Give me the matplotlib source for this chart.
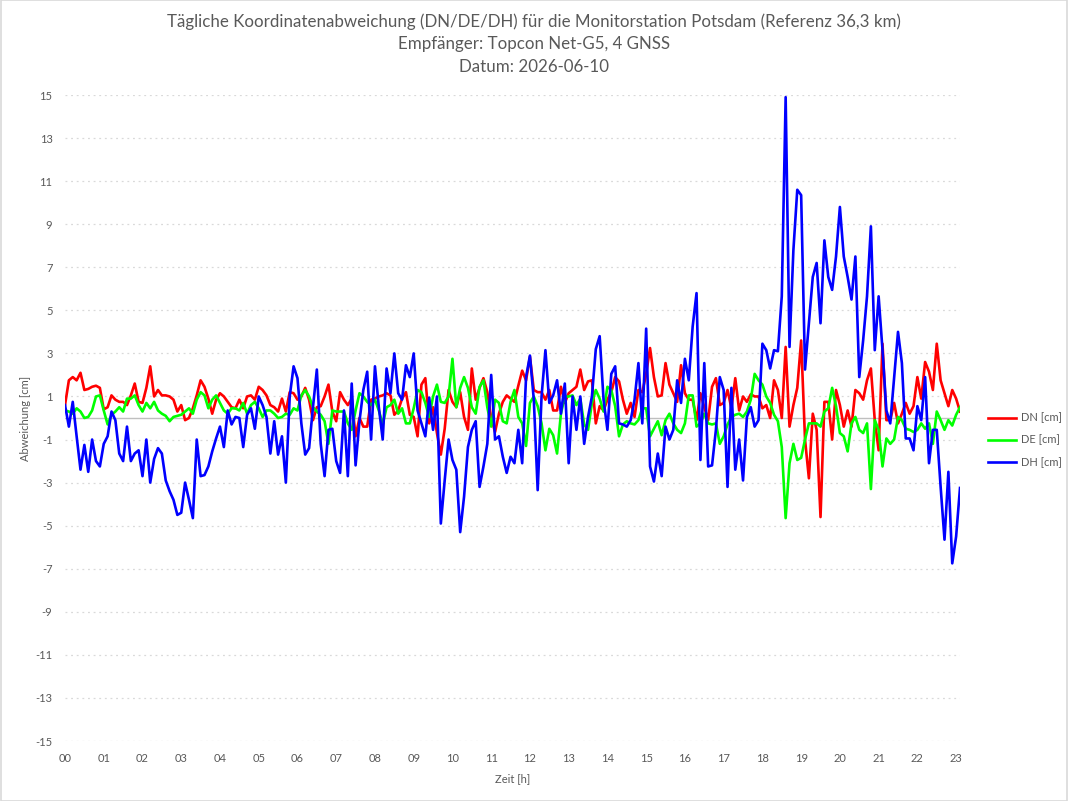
import numpy as np
import matplotlib
matplotlib.use("Agg")
import matplotlib.pyplot as plt
from matplotlib.patches import Rectangle

# ---- data (samples every 0.1 h) ----
step_h = 0.1
dn_cm = [0.6, 1.75, 1.9, 1.75, 2.1, 1.3, 1.35, 1.45, 1.5, 1.4, 0.4, 0.5, 1.05, 0.85, 0.75, 0.75, 0.6, 1.05, 1.6, 0.75, 0.7, 1.4, 2.4, 1.0, 1.3, 1.05, 1.05, 1.0, 0.85, 0.3,
         0.6, -0.1, 0.0, 0.45, 1.05, 1.75, 1.45, 0.9, 0.2, 0.85, 1.15, 1.0, 0.75, 0.5, 0.45, 0.85, 0.45, 1.0, 1.05, 0.85, 1.45, 1.3, 1.05, 0.6, 0.5, 0.3, 0.9, 0.3, 1.2, 1.15,
         0.85, 1.0, 1.4, 0.85, -0.1, 0.5, 0.55, 1.0, 1.55, 0.3, -0.15, 1.2, 0.85, 0.6, 0.9, -0.85, 0.0, -0.4, -0.4, 0.85, 0.9, 1.0, 1.05, 1.15, 1.05, 0.15, 0.35, 0.9, 1.2, 0.15,
         0.05, -0.85, 1.55, 1.85, -0.25, 0.5, -0.7, -1.7, -0.5, 1.3, 0.75, 0.5, 1.2, 0.05, -0.55, 2.3, 0.85, 1.4, 1.85, 1.2, 0.0, -0.65, 0.2, 0.75, 1.05, 0.9, 0.75, 1.5, 2.2, 1.75,
         2.85, 1.3, 1.2, 1.2, 0.85, 1.3, 0.35, 0.35, 1.45, 0.7, 1.15, 1.3, 1.45, 2.25, 1.3, 1.7, 1.75, -0.25, 0.55, 0.35, 0.85, 1.2, 1.9, 1.7, 0.85, 0.2, 0.7, 0.05,
         1.3, 1.2, 2.05, 3.25, 1.9, 1.0, 1.05, 2.55, 1.55, 1.15, 0.75, 2.45, 1.15, 0.85, 0.85, -0.1, 1.15, 0.5, -0.1, 1.45, 1.85, 0.6, 0.7, 1.3, 0.45, 1.85, 0.35, 1.0, 0.75,
         1.1, 1.0, 1.0, 0.45, 0.6, 0.0, 1.75, 1.3, 0.0, 3.3, -0.4, 0.6, 1.4, 3.6, -1.0, -2.8, 0.2, -0.55, -4.6, 0.75, 0.75, -1.0, 1.3, 0.6, -0.4, 0.35,
         -0.4, 1.3, 1.15, 0.85, 1.75, 2.3, -0.1, -1.5, 3.45, -0.1, -0.1, 0.7, -0.25, 0.2, 0.7, 0.2, 0.55, 1.9, 0.9, 2.6, 2.15, 1.3, 3.45, 1.75, 1.15, 0.55, 1.3, 0.9, 0.3]

de_cm = [0.35, 0.3, 0.2, 0.45, 0.3, 0.0, 0.05, 0.35, 1.0, 1.05, 0.35, -0.3, 0.15, 0.3, 0.5, 0.3, 0.9, 0.9, 1.05, 0.6, 0.3, 0.7, 0.45, 0.75, 0.35, 0.2, 0.1, -0.15, 0.05, 0.1,
         0.15, 0.3, 0.45, 0.2, 0.85, 1.2, 1.05, 0.45, 0.85, 1.05, 0.7, 0.35, 0.2, 0.45, 0.45, 0.35, 0.7, 0.2, 0.6, 0.75, 0.45, 0.05, 0.35, 0.35, 0.2, 0.0, 0.05, 0.2, 0.15, 0.45,
         0.35, 1.05, 1.3, 1.0, 0.5, 0.3, 0.15, -0.15, -1.2, 0.35, 0.3, 0.3, 0.3, -0.25, -0.55, 0.35, 1.15, 1.0, 0.75, 0.6, 0.85, 0.35, -0.3, 0.5, 0.6, 0.85, 0.2, 0.45, -0.25, -0.25,
         0.45, 1.3, 1.2, 0.7, 0.05, 1.0, 1.55, 0.75, 0.7, 1.0, 2.75, 0.5, 1.4, 1.9, 1.4, 0.5, 0.2, 1.45, 1.75, 0.5, -0.4, 0.85, 0.7, -0.15, -0.25, 0.75, 1.3, 0.05, -0.25, -1.3,
         0.7, 1.0, 0.55, -0.25, -1.5, -0.5, -0.8, -1.65, 0.2, 1.0, 1.0, 1.05, 0.6, 0.9, -0.3, -0.55, 0.7, 1.3, 0.9, 0.3, 1.45, 1.3, 0.55, -0.85, -0.3, -0.15, -0.25, -0.3,
         -0.1, 0.45, 0.45, -0.85, -0.5, -0.15, -0.8, -0.1, 0.2, -0.25, -0.55, -0.7, -0.25, 1.05, 1.05, -0.4, -0.25, 0.2, -0.25, -0.3, -0.25, -1.2, -0.85, -0.3, 0.05, 0.15, 0.2, 0.05, 0.3,
         0.85, 2.05, 1.75, 1.55, 1.0, 0.7, 0.15, -0.15, -1.35, -4.65, -2.1, -1.2, -1.95, -1.85, -1.0, -0.25, -0.25, -0.25, -0.4, 0.3, 0.45, 1.4, 0.55, -0.7, -0.85, -1.55,
         -0.25, 0.05, -0.55, -0.7, -0.25, -3.3, -0.1, -0.55, -2.25, -0.95, -1.2, -1.0, 0.05, -0.1, -0.5, -0.55, -0.65, -0.55, -0.25, -0.5, -0.25, -1.2, 0.3, -0.1, -0.55, -0.1, -0.35, 0.15, 0.5]

dh_cm = [0.6, -0.4, 0.75, -0.85, -2.4, -1.25, -2.5, -1.0, -2.0, -2.25, -1.2, -0.85, 0.3, -0.1, -1.65, -2.0, -0.4, -2.0, -1.65, -1.5, -2.7, -1.0, -3.0, -1.9, -1.4, -1.65, -2.9, -3.4, -3.8, -4.5,
         -4.4, -3.0, -3.8, -4.65, -1.0, -2.7, -2.65, -2.25, -1.55, -0.95, -0.4, -1.35, 0.35, -0.3, 0.05, 0.0, -1.35, 0.15, 0.45, -0.5, 1.0, 0.6, 0.05, -1.65, -0.15, -1.7, -0.85, -3.0, 1.0, 2.4,
         1.85, -0.25, -1.7, -1.4, 0.5, 2.25, -1.2, -2.7, -0.55, -0.5, -2.0, -2.55, 0.35, -2.7, 1.6, -2.2, -0.15, 1.3, 2.15, -1.0, 2.4, 0.5, -1.0, 2.3, 1.15, 3.0, 1.15, 0.85, 2.45, 1.9,
         3.0, 0.35, -0.25, -0.85, 0.95, -0.55, 1.0, -4.9, -2.9, -1.0, -1.95, -2.4, -5.3, -3.65, -1.35, -0.55, -0.15, -3.2, -2.25, -1.2, 2.0, -1.0, -0.85, -1.8, -2.55, -1.8, -2.1, -0.55, -2.1, 1.9,
         2.9, 0.85, -3.35, 1.0, 3.15, 0.7, 1.05, 1.75, 0.2, 1.6, -2.1, 1.0, -0.55, 1.0, -1.2, 0.05, 1.0, 3.2, 3.8, 0.85, -0.55, 2.05, 2.4, -0.25, -0.3, -0.4, -0.1, 0.85,
         2.55, -0.25, 4.15, -2.25, -2.95, -1.65, -2.7, -0.4, -1.0, -0.55, 1.75, 0.7, 2.75, 1.75, 4.25, 5.8, -1.95, 2.55, -2.25, -2.2, -0.55, 1.9, 1.3, -3.2, 1.4, -2.4, -1.0, -2.9, 0.05,
         0.5, -0.4, -0.1, 3.45, 3.15, 2.3, 3.15, 3.1, 5.65, 14.9, 3.3, 7.8, 10.6, 10.35, 2.25, 4.4, 6.55, 7.2, 4.4, 8.25, 6.55, 5.95, 7.5, 9.8, 7.5, 6.55,
         5.5, 7.5, 1.9, 3.6, 5.65, 8.9, 3.15, 5.65, 3.15, 0.35, -0.25, 1.9, 4.0, 2.55, -0.95, -0.95, -1.5, 0.55, -0.1, 1.9, -2.1, -0.55, -0.55, -3.2, -5.65, -2.5, -6.75, -5.5, -3.25]

series_names = ["DN [cm]", "DE [cm]", "DH [cm]"]
series_colors = ["#ff0000", "#00ff00", "#0000ff"]
hour_labels = ["%02d" % h for h in range(24)]
y_ticks = list(range(-15, 16, 2))

title_lines = ["Tägliche Koordinatenabweichung (DN/DE/DH) für die Monitorstation Potsdam (Referenz 36,3 km)",
               "Empfänger: Topcon Net-G5, 4 GNSS",
               "Datum: 2026-06-10"]

# ---- plot ----
plt.rcParams['font.family'] = ['Lato', 'DejaVu Sans']
grey = "#595959"

fig = plt.figure(figsize=(10.68, 8.01), dpi=100)
ax = fig.add_axes([65/1068, 1-741/801, (960-65)/1068, (741-95)/801])

t = np.arange(len(dn_cm)) * step_h
for vals, name, col in zip([dn_cm, de_cm, dh_cm], series_names, series_colors):
    ax.plot(t, vals, color=col, lw=1.9, label=name, solid_joinstyle='round')

ax.set_xlim(0, t[-1])
ax.set_ylim(-15, 15)
ax.set_yticks(y_ticks)
ax.set_yticklabels([str(v) for v in y_ticks])
ax.set_xticks(range(24))
ax.set_xticklabels(hour_labels)
for s in ax.spines.values():
    s.set_visible(False)
ax.tick_params(length=0, colors=grey, labelsize=8, pad=9)
ax.yaxis.grid(True, color="#d9d9d9", linestyle=(0, (1.5, 3)), lw=0.9)
ax.set_axisbelow(True)
ax.axhline(0, color="#bfbfbf", lw=1.0, zorder=0.5)

ax.set_ylabel("Abweichung [cm]", color=grey, fontsize=8, labelpad=3)
ax.set_xlabel("Zeit [h]", color=grey, fontsize=8, labelpad=6)

for i, line in enumerate(title_lines):
    fig.text(534/1068, 1 - (22 + 22.5*i)/801, line, ha='center', va='center',
             color=grey, fontsize=12.2)

leg = fig.legend(loc='center left', bbox_to_anchor=(978/1068, 1-440/801), frameon=False,
                 fontsize=8, handlelength=2.5, labelspacing=1.0, handletextpad=0.5)
for txt in leg.get_texts():
    txt.set_color(grey)

fig.patches.append(Rectangle((0.0005, 0.0005), 0.999, 0.999, transform=fig.transFigure,
                             fill=False, edgecolor="#d9d9d9", lw=1.2))

fig.savefig("out.png", dpi=100)
